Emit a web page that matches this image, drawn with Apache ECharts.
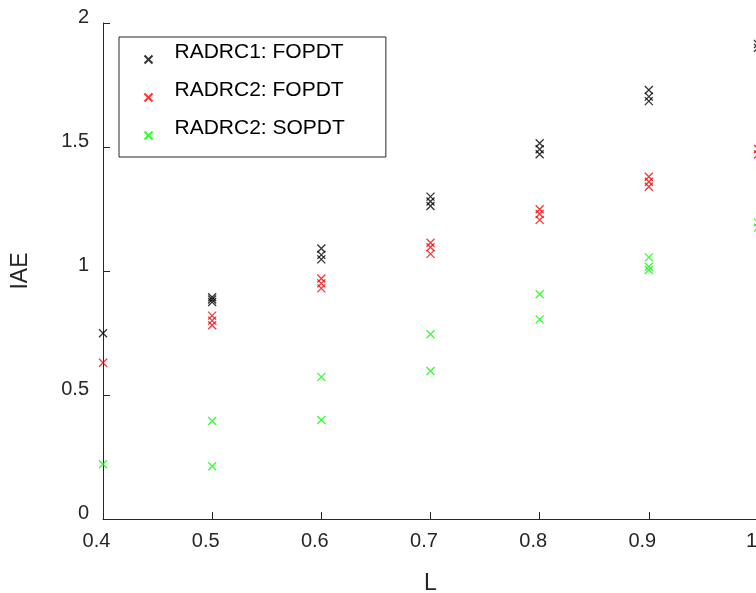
<!DOCTYPE html>
<html>
<head>
<meta charset="utf-8">
<script src="https://cdn.jsdelivr.net/npm/echarts@6/dist/echarts.min.js"></script>
<style>
html,body{margin:0;padding:0;background:#fff;}
#main{width:756px;height:593px;}
</style>
</head>
<body>
<div id="main"></div>
<script>
// Categories (L values)
const L = [0.4, 0.5, 0.6, 0.7, 0.8, 0.9, 1.0];
// IAE values per L (several runs each)
const radrc1Fopdt = [[0.749], [0.894, 0.885, 0.875], [1.091, 1.065, 1.047], [1.300, 1.280, 1.262], [1.515, 1.491, 1.471], [1.730, 1.703, 1.685], [1.915, 1.900]];
const radrc2Fopdt = [[0.630], [0.820, 0.800, 0.781], [0.970, 0.950, 0.930], [1.114, 1.096, 1.069], [1.249, 1.230, 1.206], [1.380, 1.360, 1.340], [1.492, 1.470]];
const radrc2Sopdt = [[0.2205], [0.395, 0.2125], [0.573, 0.399], [0.745, 0.597], [0.906, 0.805], [1.055, 1.017, 1.004], [1.196, 1.175]];
const seriesNames = ['RADRC1: FOPDT', 'RADRC2: FOPDT', 'RADRC2: SOPDT'];
const seriesColors = ['#000000', '#ff0000', '#00ff00'];
const xTicks = {min: 0.4, max: 1, interval: 0.1};
const yTicks = {min: 0, max: 2, interval: 0.5};

function toPoints(groups) {
  const pts = [];
  groups.forEach((vals, i) => vals.forEach(v => pts.push([L[i], v])));
  return pts;
}
const allData = [radrc1Fopdt, radrc2Fopdt, radrc2Sopdt];
const FONT = 'Liberation Sans, Arial, Helvetica, sans-serif';
const TXT = '#262626';
const crossPath = 'path://M0,0L10,10M10,0L0,10';
// legend icon: cross placed in the lower part of a taller box (text sits above marker)
const legendIcon = 'path://M0,0M0,14L8,22M8,14L0,22';

const chart = echarts.init(document.getElementById('main'), null, {renderer: 'canvas'});
chart.setOption({
  animation: false,
  backgroundColor: '#ffffff',
  grid: {left: 103, top: 23, width: 655, height: 496, containLabel: false, outerBoundsMode: 'none'},
  xAxis: {
    type: 'value', min: xTicks.min, max: xTicks.max, interval: xTicks.interval,
    name: 'L', nameLocation: 'middle', nameGap: 53,
    nameTextStyle: {fontFamily: FONT, fontSize: 23, color: TXT},
    axisLine: {show: true, lineStyle: {color: TXT, width: 1}},
    axisTick: {show: true, inside: true, length: 7, lineStyle: {color: TXT}},
    axisLabel: {fontFamily: FONT, fontSize: 20, color: TXT, margin: 12, padding: [0, 13, 0, 0], showMaxLabel: true, showMinLabel: true},
    splitLine: {show: false}
  },
  yAxis: {
    type: 'value', min: yTicks.min, max: yTicks.max, interval: yTicks.interval,
    name: 'IAE', nameLocation: 'middle', nameGap: 71, nameRotate: 90,
    nameTextStyle: {fontFamily: FONT, fontSize: 23, color: TXT},
    axisLine: {show: true, lineStyle: {color: TXT, width: 1}},
    axisTick: {show: true, inside: true, length: 7, lineStyle: {color: TXT}},
    axisLabel: {fontFamily: FONT, fontSize: 20, color: TXT, margin: 14, verticalAlign: 'bottom', lineHeight: 12},
    splitLine: {show: false}
  },
  legend: {
    orient: 'vertical', left: 119, top: 37,
    data: seriesNames,
    icon: legendIcon,
    borderColor: TXT, borderWidth: 1, borderRadius: 0,
    backgroundColor: '#ffffff',
    padding: [2, 41, 15, 23],
    itemGap: 11, itemWidth: 8, itemHeight: 22,
    textStyle: {fontFamily: FONT, fontSize: 21, color: '#000', lineHeight: 21, padding: [0, 0, 0, 17]},
    selectedMode: false
  },
  series: seriesNames.map((name, i) => ({
    type: 'scatter', name: name,
    data: toPoints(allData[i]),
    symbol: crossPath, symbolSize: 8,
    itemStyle: {color: 'none', borderColor: seriesColors[i], borderWidth: 1.3},
    clip: false
  }))
});
</script>
</body>
</html>
